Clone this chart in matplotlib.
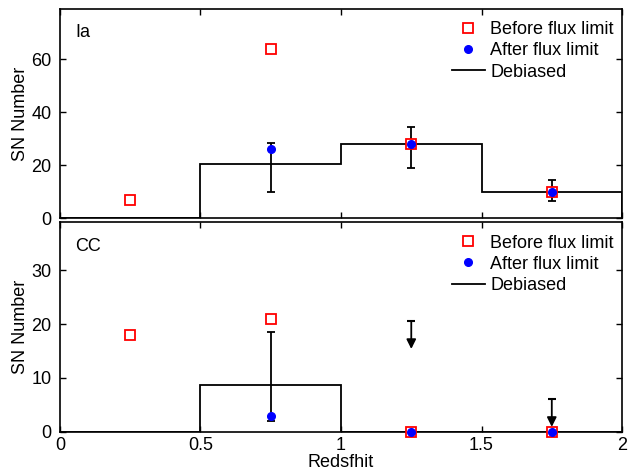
import matplotlib.pyplot as plt
import numpy as np

plt.rcParams['font.family'] = ['Liberation Sans', 'DejaVu Sans']
plt.rcParams['font.size'] = 13

# redshift bins
edges = [0, 0.5, 1.0, 1.5, 2.0]
z_mid = [0.25, 0.75, 1.25, 1.75]

# Ia panel
ia_before = [7, 64, 28, 10]
ia_after_z = [0.75, 1.25, 1.75]
ia_after = [26, 28, 10]
ia_debiased = [0, 20.4, 28, 10]
ia_err_z = [0.75, 1.25, 1.75]
ia_err_lo = [9.9, 18.8, 6.5]
ia_err_hi = [28.2, 34.5, 14.3]

# CC panel
cc_before = [18, 21, 0, 0]
cc_after_z = [0.75, 1.25, 1.75]
cc_after = [3, 0, 0]
cc_debiased = [0, 8.7, 0, 0]
cc_err_z = [0.75]
cc_err_lo = [2.0]
cc_err_hi = [18.5]
cc_lim_z = [1.25, 1.75]
cc_lim = [20.6, 6.1]
arrow_len = 5.2

fig = plt.figure(figsize=(6.38, 4.71), dpi=100)
ax1 = fig.add_axes([0.094, 0.537, 0.881, 0.444])
ax2 = fig.add_axes([0.094, 0.0834, 0.881, 0.445])


def panel(ax, before, after_z, after, deb, ez, elo, ehi, ylim, yticks, name):
    ax.stairs(deb, edges, color='k', lw=1.3, label='Debiased', zorder=2)
    mid = [deb[z_mid.index(z)] for z in ez]
    ax.errorbar(ez, mid, yerr=[np.array(mid) - np.array(elo), np.array(ehi) - np.array(mid)],
                fmt='none', ecolor='k', elinewidth=1.3, capsize=3, capthick=1.3, zorder=3)
    ax.plot(z_mid, before, 's', mfc='white', mec='red', mew=1.3, ms=7,
            label='Before flux limit', zorder=4, clip_on=False)
    ax.plot(after_z, after, 'o', color='blue', ms=5.5, label='After flux limit',
            zorder=5, clip_on=False)
    ax.set_xlim(0, 2)
    ax.set_ylim(*ylim)
    ax.set_yticks(yticks)
    ax.set_xticks([0, 0.5, 1, 1.5, 2])
    ax.tick_params(direction='in', top=True, right=True, length=4, width=1,
                   labelsize=13, pad=6)
    ax.tick_params(axis='x', pad=4)
    for s in ax.spines.values():
        s.set_linewidth(1.2)
    ax.set_ylabel('SN Number', fontsize=13, labelpad=2)
    ax.text(0.027, 0.885, name, transform=ax.transAxes, fontsize=13, va='center')
    h, l = ax.get_legend_handles_labels()
    order = [l.index('Before flux limit'), l.index('After flux limit'), l.index('Debiased')]
    ax.legend([h[i] for i in order], [l[i] for i in order], loc='upper right',
              bbox_to_anchor=(0.9915, 0.958), frameon=False, fontsize=13,
              labelspacing=0.23, handlelength=1.8, handletextpad=0.3,
              borderaxespad=0, borderpad=0.2)


panel(ax1, ia_before, ia_after_z, ia_after, ia_debiased, ia_err_z, ia_err_lo, ia_err_hi,
      (0, 79), [0, 20, 40, 60], 'Ia')
ax1.set_xticklabels([])

panel(ax2, cc_before, cc_after_z, cc_after, cc_debiased, cc_err_z, cc_err_lo, cc_err_hi,
      (0, 39), [0, 10, 20, 30], 'CC')
ax2.set_xticklabels(['0', '0.5', '1', '1.5', '2'])
ax2.set_xlabel('Redsfhit', fontsize=13, labelpad=0)

# upper limits
for z, ul in zip(cc_lim_z, cc_lim):
    ax2.plot([z], [ul], marker='_', color='k', ms=6, mew=1.5, zorder=6)
    ax2.annotate('', xy=(z, ul - arrow_len), xytext=(z, ul),
                 arrowprops=dict(arrowstyle='-|>', color='k', lw=1.3,
                                 mutation_scale=14, shrinkA=0, shrinkB=0), zorder=6)

fig.savefig('out.png', dpi=100)
